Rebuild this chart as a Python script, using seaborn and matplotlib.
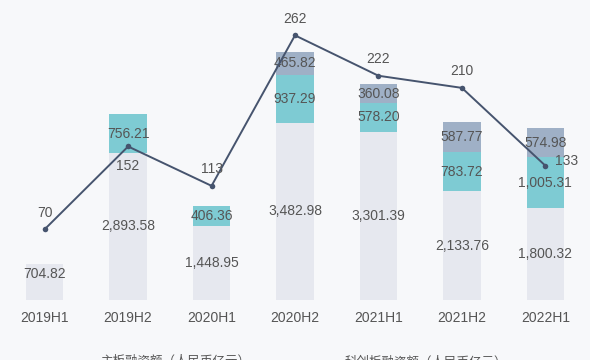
import numpy as np
import pandas as pd
import matplotlib
matplotlib.use("Agg")
import matplotlib.pyplot as plt
import seaborn as sns

# 数据
periods = ["2019H1", "2019H2", "2020H1", "2020H2", "2021H1", "2021H2", "2022H1"]
main_board = [704.82, 2893.58, 1448.95, 3482.98, 3301.39, 2133.76, 1800.32]
star_market = [0, 756.21, 406.36, 937.29, 578.20, 783.72, 1005.31]
gem_reg = [0, 0, 0, 465.82, 360.08, 587.77, 574.98]
ipo_count = [70, 152, 113, 262, 222, 210, 133]

legend_labels = ["主板融资额（人民币亿元）", "科创板融资额（人民币亿元）"]

BG = "#f7f8fa"
C_BOTTOM = "#e6e8ef"
C_MID = "#7ecbd3"
C_TOP = "#9fb0c6"
C_LINE = "#46546e"
C_TEXT = "#555555"

sns.set_theme(style="white")
plt.rcParams["font.family"] = ["Liberation Sans", "Noto Sans CJK SC", "DejaVu Sans"]

df = pd.DataFrame({
    "period": periods,
    "bottom": main_board,
    "mid": star_market,
    "top": gem_reg,
    "count": ipo_count,
})
df["lvl2"] = df["bottom"] + df["mid"]
df["lvl3"] = df["lvl2"] + df["top"]

fig = plt.figure(figsize=(5.9, 3.6), dpi=100, facecolor=BG)
ax = fig.add_axes([0.005, 0.1667, 0.99, 0.8333])
ax.set_facecolor(BG)

# 叠加画法：先画总高度，再画下面的部分
for col, c in [("lvl3", C_TOP), ("lvl2", C_MID), ("bottom", C_BOTTOM)]:
    sns.barplot(data=df, x="period", y=col, color=c, width=0.45,
                saturation=1, linewidth=0, ax=ax)

ax.set_xlim(-0.5, 6.5)
ax.set_ylim(0, 5900)
ax.set_xlabel("")
ax.set_ylabel("")
ax.set_yticks([])
ax.tick_params(axis="x", length=0, labelsize=10, labelcolor=C_TEXT, pad=8)
for s in ax.spines.values():
    s.set_visible(False)

# 柱内数值（矮柱子的标签稍微往上放）
for i, r in df.iterrows():
    yb = max(r["bottom"] / 2, 520)
    ax.text(i, yb, f"{r['bottom']:,.2f}", ha="center", va="center",
            fontsize=10, color=C_TEXT)
    if r["mid"] > 0:
        ax.text(i, r["bottom"] + r["mid"] / 2, f"{r['mid']:,.2f}", ha="center",
                va="center", fontsize=10, color=C_TEXT)
    if r["top"] > 0:
        ax.text(i, r["lvl2"] + r["top"] / 2, f"{r['top']:,.2f}", ha="center",
                va="center", fontsize=10, color=C_TEXT)

# IPO数量折线
ax2 = ax.twinx()
sns.lineplot(x=np.arange(len(periods)), y=df["count"], color=C_LINE,
             marker="o", markersize=4, markeredgewidth=0, linewidth=1.4, ax=ax2)
ax2.set_ylim(0, 297)
ax2.set_yticks([])
ax2.set_ylabel("")
for s in ax2.spines.values():
    s.set_visible(False)

for i, v in enumerate(ipo_count):
    if i == len(ipo_count) - 1:
        off, ha = (7, 3), "left"
    elif i == 1:
        off, ha = (0, -14), "center"
    else:
        off, ha = (0, 12), "center"
    ax2.annotate(str(v), (i, v), xytext=off, textcoords="offset points",
                 ha=ha, va="center", fontsize=10, color=C_TEXT)

# 图例文字（在图底部，大部分被裁掉）
fig.text(100 / 590, 0.011, legend_labels[0], ha="left", va="top",
         fontsize=9, color=C_TEXT)
fig.text(345 / 590, 0.011, legend_labels[1], ha="left", va="top",
         fontsize=9, color=C_TEXT)

fig.savefig("out.png", dpi=100, facecolor=BG)
